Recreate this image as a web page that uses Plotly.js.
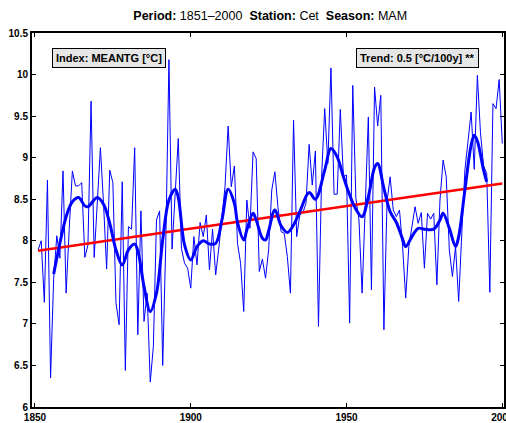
<!DOCTYPE html>
<html>
<head>
<meta charset="utf-8">
<script src="https://cdn.plot.ly/plotly-3.0.1.min.js"></script>
<style>html,body{margin:0;padding:0;background:#fff;}#chart{width:506px;height:423px;}</style>
</head>
<body>
<div id="chart"></div>
<script>
// Annual MAM mean temperature (Cet), 1851-2000
var years = [];
for (var y = 1851; y <= 2000; y++) years.push(y);
var meantg = [
 7.89, 8.00, 7.26, 8.73, 6.35, 7.55, 8.06, 7.79, 8.84, 7.37,
 8.15, 8.84, 8.66, 8.66, 8.70, 7.80, 7.95, 9.68, 7.80, 8.40,
 9.12, 8.45, 7.66, 8.85, 8.70, 7.25, 6.99, 8.71, 6.44, 8.17,
 8.14, 9.12, 6.87, 8.36, 7.03, 7.37, 6.30, 6.73, 8.25, 8.36,
 6.50, 8.00, 10.18, 7.90, 8.60, 9.23, 7.91, 7.73, 7.67, 7.43,
 8.05, 7.71, 8.22, 8.05, 8.31, 7.65, 8.14, 7.59, 7.91, 8.29,
 8.65, 9.38, 8.65, 8.90, 7.97, 7.73, 7.15, 8.49, 8.15, 9.07,
 8.99, 7.63, 7.78, 7.55, 7.89, 8.61, 8.83, 8.40, 8.11, 8.09,
 7.81, 7.37, 9.45, 8.05, 8.31, 8.34, 8.45, 9.16, 8.67, 9.08,
 6.97, 8.77, 9.59, 8.93, 10.08, 8.56, 8.56, 9.58, 8.77, 8.79,
 7.01, 9.87, 8.51, 8.25, 7.37, 8.40, 9.49, 7.41, 9.85, 9.38,
 9.75, 6.93, 8.47, 8.77, 8.37, 8.29, 8.37, 7.93, 7.31, 7.93,
 8.17, 8.41, 8.21, 8.34, 7.67, 8.33, 8.26, 8.33, 7.47, 8.49,
 8.97, 8.77, 7.89, 7.57, 7.93, 7.27, 8.09, 8.85, 9.20, 9.55,
 8.86, 9.99, 9.30, 8.90, 8.81, 7.38, 9.65, 9.59, 9.94, 9.17
];
// Smoothed curve
var smoothYears = [1856,1858,1860,1862,1864,1866,1867,1870,1872,1874,1876,1878,1880,1882,1883,1885,1887,1889,1891,1893,1895,1896,1898,1900,1902,1904,1906,1908,1910,1912,1914,1915,1917,1918,1920,1921,1923,1924,1925,1927,1929,1931,1933,1935,1938,1940,1943,1945,1947,1949,1951,1953,1955,1957,1959,1960,1962,1964,1966,1968,1969,1971,1973,1975,1978,1980,1981,1983,1985,1986,1988,1990,1991,1992,1994,1995];
var smoothVals = [7.60,7.97,8.29,8.47,8.52,8.42,8.41,8.52,8.44,8.21,7.89,7.71,7.89,7.96,7.88,7.45,7.15,7.37,8.01,8.49,8.62,8.52,7.95,7.77,7.93,8.00,7.96,7.97,8.25,8.62,8.45,8.22,8.01,8.13,8.33,8.25,8.03,8.01,8.12,8.37,8.18,8.10,8.19,8.35,8.58,8.50,8.85,9.11,9.01,8.77,8.55,8.38,8.29,8.53,8.88,8.93,8.63,8.35,8.22,8.02,7.93,8.05,8.15,8.14,8.14,8.25,8.33,8.15,7.93,8.05,8.61,9.15,9.27,9.20,8.85,8.71];
// Linear trend end points
var trendYears = [1851, 2000];
var trendVals = [7.88, 8.69];

var xTicks = [1850, 1900, 1950, 2000];
var yTicks = [6, 6.5, 7, 7.5, 8, 8.5, 9, 9.5, 10, 10.5];
var yTickText = ['6', '6.5', '7', '7.5', '8', '8.5', '9', '9.5', '10', '10.5'];

var traces = [
  {x: years, y: meantg, type: 'scatter', mode: 'lines', line: {color: '#0000ff', width: 1}, hoverinfo: 'skip'},
  {x: trendYears, y: trendVals, type: 'scatter', mode: 'lines', line: {color: '#ff0000', width: 2.5}, hoverinfo: 'skip'},
  {x: smoothYears, y: smoothVals, type: 'scatter', mode: 'lines', line: {color: '#0000ff', width: 3, shape: 'spline', smoothing: 1}, hoverinfo: 'skip'}
];

var axisFont = {family: 'Liberation Sans, Arial, sans-serif', size: 10, color: '#000', weight: 'bold'};
var layout = {
  width: 506, height: 423,
  margin: {l: 32, r: 2, t: 33, b: 16, pad: 0},
  paper_bgcolor: '#fff', plot_bgcolor: '#fff',
  showlegend: false,
  font: {family: 'Liberation Sans, Arial, sans-serif', color: '#000'},
  title: {
    text: '<b>Period:</b> 1851\u20132000  <b>Station:</b> Cet  <b>Season:</b> MAM',
    font: {family: 'Liberation Sans, Arial, sans-serif', size: 12.5, color: '#000'},
    x: 0.534, xanchor: 'center', y: 0.962, yanchor: 'middle'
  },
  xaxis: {
    range: [1849.04, 2000.55], tickvals: xTicks, ticktext: xTicks.map(String),
    ticks: 'inside', ticklen: 4, tickwidth: 1, tickcolor: '#000',
    showline: true, linecolor: '#000', linewidth: 2, mirror: 'allticks',
    showgrid: false, zeroline: false, tickfont: axisFont, ticklabeloverflow: 'allow'
  },
  yaxis: {
    range: [6, 10.5], tickvals: yTicks, ticktext: yTickText,
    ticks: 'inside', ticklen: 4, tickwidth: 1, tickcolor: '#000',
    showline: true, linecolor: '#000', linewidth: 2, mirror: 'allticks',
    showgrid: false, zeroline: false, tickfont: axisFont, ticklabeloverflow: 'allow'
  },
  annotations: [
    {xref: 'paper', yref: 'paper', x: 0.042, y: 0.96, xanchor: 'left', yanchor: 'top',
     text: '<b>Index: MEANTG [°C]</b>', showarrow: false,
     font: {family: 'Liberation Sans, Arial, sans-serif', size: 11, color: '#000'},
     bgcolor: '#e6e6e6', bordercolor: '#000', borderwidth: 1, borderpad: 3},
    {xref: 'paper', yref: 'paper', x: 0.947, y: 0.96, xanchor: 'right', yanchor: 'top',
     text: '<b>Trend: 0.5 [°C/100y] **</b>', showarrow: false,
     font: {family: 'Liberation Sans, Arial, sans-serif', size: 11, color: '#000'},
     bgcolor: '#e6e6e6', bordercolor: '#000', borderwidth: 1, borderpad: 3}
  ]
};
Plotly.newPlot('chart', traces, layout, {staticPlot: true, displayModeBar: false});
</script>
</body>
</html>
